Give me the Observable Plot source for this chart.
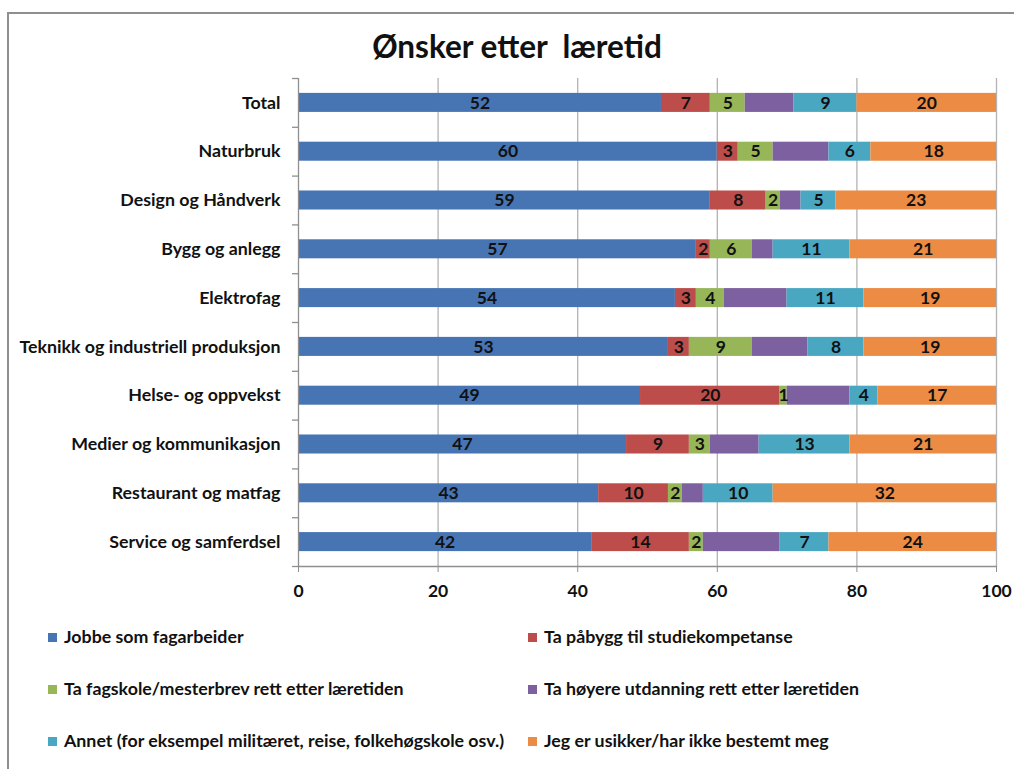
<!DOCTYPE html>
<html>
<head>
<meta charset="utf-8">
<script src="https://cdn.jsdelivr.net/npm/d3@7"></script>
<script src="https://cdn.jsdelivr.net/npm/@observablehq/plot@0.6"></script>
<style>
  body { margin: 0; background: #fff; font-family: Lato, "Liberation Sans", sans-serif; color: #111; }
  #wrap { position: relative; width: 1014px; height: 769px; overflow: hidden; background: #fff; }
  #frame { position: absolute; left: 7px; top: 12px; width: 1200px; height: 900px;
           border-top: 2px solid #8f8f8f; border-left: 2px solid #8f8f8f; }
  #chart { position: absolute; left: 0; top: 0; }
  #title { position: absolute; left: 0; width: 1034px; top: 27px; text-align: center;
           font-size: 31.5px; font-weight: bold; white-space: pre; line-height: 38px; }
  .leg { position: absolute; font-size: 17.8px; font-weight: bold; white-space: nowrap; line-height: 22px; }
  .leg span { display: inline-block; width: 9px; height: 9px; margin-right: 7px; vertical-align: 1px; }
</style>
</head>
<body>
<div id="wrap">
  <div id="frame"></div>
  <div id="chart"></div>
  <div id="title"></div>
  <div id="legend"></div>
</div>
<script>
// Survey: what apprentices want to do after their apprenticeship (percent)
const categories = [
  "Total", "Naturbruk", "Design og Håndverk", "Bygg og anlegg", "Elektrofag",
  "Teknikk og industriell produksjon", "Helse- og oppvekst", "Medier og kommunikasjon",
  "Restaurant og matfag", "Service og samferdsel"
];
const series = [
  "Jobbe som fagarbeider",
  "Ta påbygg til studiekompetanse",
  "Ta fagskole/mesterbrev rett etter læretiden",
  "Ta høyere utdanning rett etter læretiden",
  "Annet (for eksempel militæret, reise, folkehøgskole osv.)",
  "Jeg er usikker/har ikke bestemt meg"
];
const jobbe    = [52, 60, 59, 57, 54, 53, 49, 47, 43, 42];
const paabygg  = [ 7,  3,  8,  2,  3,  3, 20,  9, 10, 14];
const fagskole = [ 5,  5,  2,  6,  4,  9,  1,  3,  2,  2];
const hoyere   = [ 7,  8,  3,  3,  9,  8,  9,  7,  3, 11];
const annet    = [ 9,  6,  5, 11, 11,  8,  4, 13, 10,  7];
const usikker  = [20, 18, 23, 21, 19, 19, 17, 21, 32, 24];
const xTicks = [0, 20, 40, 60, 80, 100];
const titleText = "Ønsker etter  læretid";

const colors = ["#4775b4", "#bc4d4a", "#96b658", "#7c609f", "#4aa7c1", "#ec8b43"];
const showLabel = [true, true, true, false, true, true];

const valueArrays = [jobbe, paabygg, fagskole, hoyere, annet, usikker];
const rows = [];
series.forEach((s, si) => {
  categories.forEach((c, ci) => {
    rows.push({category: c, series: s, value: valueArrays[si][ci], labelled: showLabel[si]});
  });
});

const font = "Lato, 'Liberation Sans', sans-serif";
const plotTop = 78, plotBottom = 566, plotHeight = 610;
const step = (plotBottom - plotTop) / categories.length;
const gray = "#8f8f8f";
const fs = 17.5;

const chart = Plot.plot({
  width: 1014,
  height: plotHeight,
  marginLeft: 298,
  marginRight: 18,
  marginTop: plotTop,
  marginBottom: plotHeight - plotBottom,
  style: {fontFamily: font, fontSize: fs + "px", fontWeight: "bold", color: "#111", background: "transparent"},
  x: {domain: [0, 100]},
  y: {domain: categories, paddingInner: 0.61, paddingOuter: 0.305, round: false},
  color: {domain: series, range: colors},
  marks: [
    Plot.ruleX(xTicks.slice(1), {stroke: "#b3b3b3", strokeWidth: 1.3}),
    Plot.barX(rows, Plot.stackX({x: "value", y: "category", fill: "series", order: series})),
    Plot.text(rows, Plot.stackX({
      x: "value", y: "category", z: "series", order: series,
      text: d => d.labelled ? String(d.value) : null,
      fill: "#111", fontSize: fs, fontWeight: "bold"
    })),
    Plot.ruleX([0], {stroke: gray, strokeWidth: 1.3}),
    Plot.frame({anchor: "bottom", stroke: gray, strokeWidth: 1.3}),
    // small ticks on the category axis, between the bands
    Plot.ruleY(categories, {y: d => d, x1: -0.86, x2: 0, dy: -step / 2, stroke: gray, strokeWidth: 1.3}),
    Plot.ruleY(categories.slice(-1), {y: d => d, x1: -0.86, x2: 0, dy: step / 2, stroke: gray, strokeWidth: 1.3}),
    Plot.axisX({ticks: xTicks, tickSize: 6, tickPadding: 12, stroke: gray, fill: "#111", fontSize: fs, fontWeight: "bold", label: null}),
    Plot.axisY({tickSize: 0, tickPadding: 18, fill: "#111", fontSize: 17.8, fontWeight: "bold", label: null})
  ]
});
document.getElementById("chart").appendChild(chart);
document.getElementById("title").textContent = titleText;

// legend: two columns, three rows
const legend = document.getElementById("legend");
const legX = [48, 528];
const legY = [625, 677, 729];
series.forEach((s, i) => {
  const div = document.createElement("div");
  div.className = "leg";
  div.style.left = legX[i % 2] + "px";
  div.style.top = legY[Math.floor(i / 2)] + "px";
  const sw = document.createElement("span");
  sw.style.background = colors[i];
  div.appendChild(sw);
  div.appendChild(document.createTextNode(s));
  legend.appendChild(div);
});
</script>
</body>
</html>
